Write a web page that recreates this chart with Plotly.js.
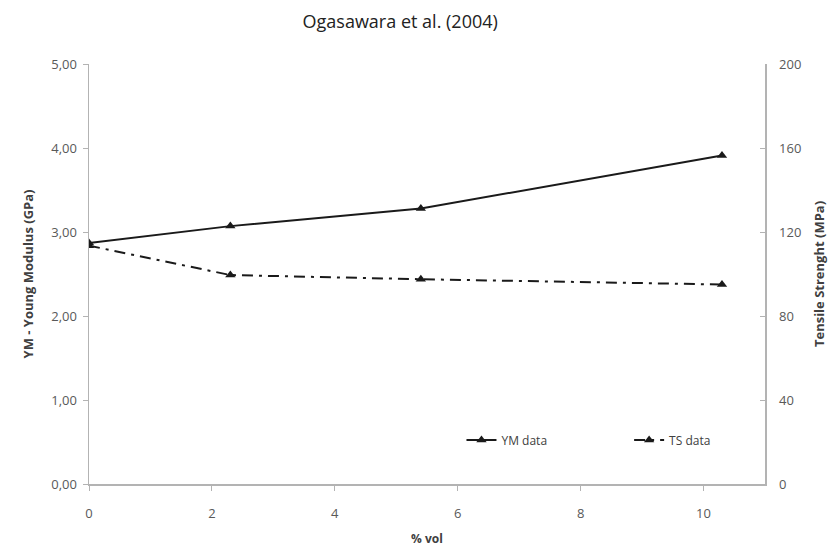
<!DOCTYPE html>
<html>
<head>
<meta charset="utf-8">
<script src="https://cdn.plot.ly/plotly-3.0.1.min.js"></script>
<style>html,body{margin:0;padding:0;background:#fff;}#chart{width:832px;height:549px;}</style>
</head>
<body>
<div id="chart"></div>
<script>
const volFraction = [0, 2.3, 5.4, 10.3];
const ymData = [2.87, 3.07, 3.28, 3.91];
const tsData = [113.5, 99.5, 97.5, 95];
const leftTicks = [0, 1, 2, 3, 4, 5];
const leftTickText = ["0,00", "1,00", "2,00", "3,00", "4,00", "5,00"];
const rightTicks = [0, 40, 80, 120, 160, 200];
const xTicks = [0, 2, 4, 6, 8, 10];

const FONT = "Open Sans, Liberation Sans, sans-serif";
const AXC = "#b3b3b3";
const traces = [
  {
    x: volFraction, y: ymData, name: "YM data", type: "scatter", mode: "lines+markers",
    line: {color: "#1a1a1a", width: 2},
    marker: {symbol: "triangle-up", size: 9, color: "#1a1a1a"},
    yaxis: "y", legend: "legend"
  },
  {
    x: volFraction, y: tsData, name: "TS data", type: "scatter", mode: "lines+markers",
    line: {color: "#1a1a1a", width: 2, dash: "11px,6px,3px,6px"},
    marker: {symbol: "triangle-up", size: 9, color: "#1a1a1a"},
    yaxis: "y2", legend: "legend2"
  }
];

const legendCommon = {orientation: "h", yanchor: "middle", xanchor: "left",
  bgcolor: "rgba(0,0,0,0)", font: {family: FONT, size: 12, color: "#404040"}};

const layout = {
  width: 832, height: 549,
  margin: {l: 89, r: 67, t: 64, b: 65},
  paper_bgcolor: "#fff", plot_bgcolor: "#fff",
  font: {family: FONT, color: "#595959", size: 13},
  title: {text: "Ogasawara et al. (2004)", x: 0.481, xanchor: "center", y: 0.96, yanchor: "middle",
          font: {family: FONT, size: 18, color: "#222"}},
  showlegend: true,
  legend: Object.assign({x: 0.551, y: 0.105}, legendCommon),
  legend2: Object.assign({x: 0.799, y: 0.105}, legendCommon),
  xaxis: {
    range: [0, 11], tickvals: xTicks, ticktext: xTicks.map(String),
    showgrid: false, zeroline: false, showline: true, linecolor: AXC, linewidth: 1.5,
    ticks: "outside", ticklen: 5, tickcolor: AXC, ticklabelstandoff: 12,
    tickfont: {family: FONT, size: 13, color: "#595959"},
    title: {text: "<b>% vol</b>", font: {family: FONT, size: 12, color: "#404040"}, standoff: 13}
  },
  yaxis: {
    range: [0, 5], tickvals: leftTicks, ticktext: leftTickText,
    showgrid: false, zeroline: false, showline: true, linecolor: AXC, linewidth: 1.5,
    ticks: "outside", ticklen: 5, tickcolor: AXC, ticklabelstandoff: 3,
    tickfont: {family: FONT, size: 13, color: "#595959"},
    title: {text: "<b>YM - Young Modulus (GPa)</b>", font: {family: FONT, size: 13, color: "#404040"}, standoff: 14}
  },
  yaxis2: {
    range: [0, 200], tickvals: rightTicks, ticktext: rightTicks.map(String),
    overlaying: "y", side: "right",
    showgrid: false, zeroline: false, showline: true, linecolor: AXC, linewidth: 1.5,
    ticks: "inside", ticklen: 5, tickcolor: AXC, ticklabelstandoff: 10,
    tickfont: {family: FONT, size: 13, color: "#595959"},
    title: {text: "<b>Tensile Strenght (MPa)</b>", font: {family: FONT, size: 13, color: "#404040"}, standoff: 14}
  }
};

Plotly.newPlot("chart", traces, layout, {displayModeBar: false, staticPlot: true});
</script>
</body>
</html>
